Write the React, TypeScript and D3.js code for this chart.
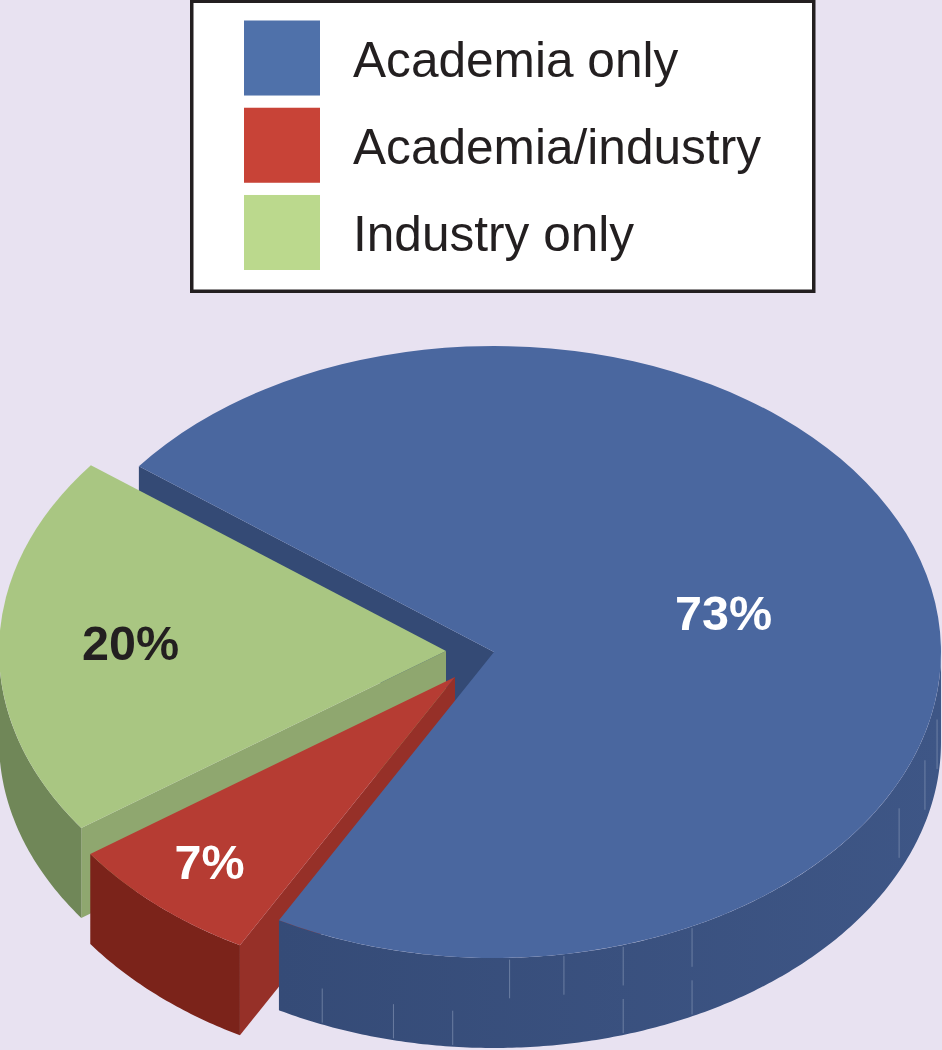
import * as d3 from 'd3';

const categories = ['Academia only', 'Academia/industry', 'Industry only'];
const shares = [72.6, 7.2, 20.2];

// side wall seams on the blue slice, degrees clockwise from 12 o'clock
const upperSeams = [178, 171, 163.2, 153.7];
const middleSeams = [115, 105.4, 97.6];
const lowerSeams = [202.6, 193, 185.3, 163.2, 153.7];

const width = 942;
const height = 1050;
const rx = 447;
const ry = 306;
const depth = 90;
const rad = Math.PI / 180;

const legendColors = ['#4f71aa', '#c84337', '#bbd98d'];
const topColors = ['#4a679f', '#b63c33', '#a9c682'];
const wallColors = ['url(#blueWall)', '#7b231a', '#708758'];
const cutColors = ['#344a75', '#963028', '#8fa76f'];
const labelColors = ['#ffffff', '#ffffff', '#231f20'];
const centers = [
  { x: 494, y: 652 },
  { x: 455, y: 677 },
  { x: 446, y: 651 },
];
const labelPos = [
  { x: 723.5, y: 630 },
  { x: 209.5, y: 879 },
  { x: 130.5, y: 660 },
];

const pie = d3
  .pie<number>()
  .sort(null)
  .value((d) => d)
  .startAngle(-52.6 * rad)
  .endAngle((-52.6 + 360) * rad);

const arc = d3.arc<d3.PieArcDatum<number>>().innerRadius(0).outerRadius(rx);
const slices = pie(shares);

const legendY = d3
  .scaleBand<string>()
  .domain(categories)
  .range([20.5, 270])
  .paddingInner(0.14);

const rim = (c: { x: number; y: number }, a: number) => ({
  x: c.x + rx * Math.sin(a),
  y: c.y - ry * Math.cos(a),
});

// outer wall, only the part of the rim that faces the viewer
const wallPath = (c: { x: number; y: number }, a0: number, a1: number) => {
  const from = Math.max(a0, 90 * rad);
  const to = Math.min(a1, 270 * rad);
  const angles = [...d3.range(from, to, 0.01), to];
  return d3
    .area<number>()
    .x((a) => rim(c, a).x)
    .y0((a) => rim(c, a).y)
    .y1((a) => rim(c, a).y + depth)(angles);
};

// flat cut face running from the apex to the rim
const cutPath = (c: { x: number; y: number }, a: number) => {
  const p = rim(c, a);
  return d3.line()([
    [c.x, c.y],
    [p.x, p.y],
    [p.x, p.y + depth],
    [c.x, c.y + depth],
  ]);
};

function Seams({ angles, from, to }: { angles: number[]; from: number; to: number }) {
  return (
    <g stroke="#8d9dbb" strokeWidth={1} opacity={0.6}>
      {angles.map((deg) => {
        const p = rim(centers[0], deg * rad);
        return <line key={deg} x1={p.x} x2={p.x} y1={p.y + depth * from} y2={p.y + depth * to} />;
      })}
    </g>
  );
}

function Slice({ i }: { i: number }) {
  const s = slices[i];
  const c = centers[i];
  return (
    <g>
      {i !== 0 && <path d={cutPath(c, s.startAngle) ?? ''} fill={cutColors[i]} />}
      <path d={wallPath(c, s.startAngle, s.endAngle) ?? ''} fill={wallColors[i]} />
      {i === 0 && (
        <>
          <Seams angles={upperSeams} from={0.02} to={0.45} />
          <Seams angles={middleSeams} from={0.3} to={0.85} />
          <Seams angles={lowerSeams} from={0.6} to={0.98} />
        </>
      )}
      <path
        d={arc(s) ?? ''}
        transform={`translate(${c.x},${c.y}) scale(1,${ry / rx})`}
        fill={topColors[i]}
      />
    </g>
  );
}

export default function App() {
  return (
    <svg
      width={width}
      height={height}
      style={{ position: 'absolute', left: 0, top: 0, display: 'block', background: '#e8e2f1' }}
      fontFamily="'Liberation Sans', Arial, sans-serif"
    >
      <defs>
        <linearGradient id="blueWall" gradientUnits="userSpaceOnUse" x1={279} x2={942} y1={0} y2={0}>
          <stop offset="0" stopColor="#354b77" />
          <stop offset="1" stopColor="#3e5686" />
        </linearGradient>
      </defs>

      <rect x={191.75} y={1.25} width={622} height={290} fill="#ffffff" stroke="#231f20" strokeWidth={3.5} />
      {categories.map((name, i) => (
        <g key={name}>
          <rect
            x={244}
            y={legendY(name)}
            width={76}
            height={legendY.bandwidth()}
            fill={legendColors[i]}
          />
          <text x={353} y={(legendY(name) ?? 0) + 56} fontSize={49.6} fill="#231f20">
            {name}
          </text>
        </g>
      ))}

      {/* painter's order: blue cut face, green, red, then the blue body on top */}
      <path d={cutPath(centers[0], slices[0].startAngle) ?? ''} fill={cutColors[0]} />
      <Slice i={2} />
      <Slice i={1} />
      <Slice i={0} />

      {shares.map((v, i) => (
        <text
          key={categories[i]}
          x={labelPos[i].x}
          y={labelPos[i].y}
          textAnchor="middle"
          fontSize={48.5}
          fontWeight={700}
          fill={labelColors[i]}
        >
          {`${Math.round(v)}%`}
        </text>
      ))}
    </svg>
  );
}
